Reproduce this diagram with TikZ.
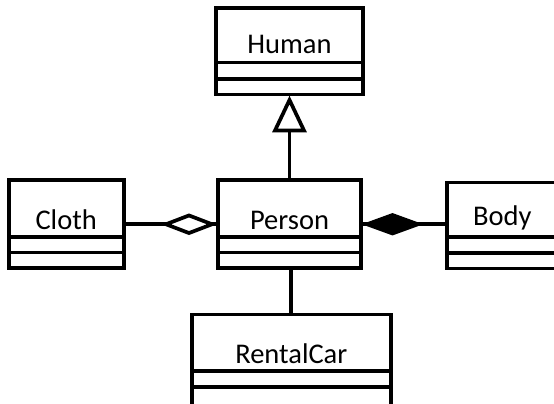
\documentclass[tikz,border=0pt]{standalone}
\usepackage{fontspec}
\setmainfont{Carlito}
\usetikzlibrary{calc}
\begin{document}
\begin{tikzpicture}[x=1pt,y=-1pt,
  ln/.style={line width=3.7pt},
  box/.style={draw, line width=3.7pt, inner sep=0pt, outer sep=0pt, anchor=north west},
  lbl/.style={font=\fontsize{28.5}{31}\selectfont, inner sep=0pt, anchor=base}]
\useasboundingbox (0,0) rectangle (554,404);
\fill[white] (0,0) rectangle (554,404);
\clip (0,0) rectangle (554,404);

% Human
\node[box, minimum width=146.4pt, minimum height=86.2pt] (human) at (216.3,8.3) {};
\draw[ln] (216.3,62.5) -- (362.7,62.5);
\draw[ln] (216.3,78.8) -- (362.7,78.8);
\node[lbl] (humanlbl) at (289.5,54) {Human};

% Person
\node[box, minimum width=143pt, minimum height=87.9pt] (person) at (218,180.3) {};
\draw[ln] (218,236.8) -- (361,236.8);
\draw[ln] (218,252.5) -- (361,252.5);
\node[lbl] (personlbl) at (289.5,229.3) {Person};

% Cloth
\node[box, minimum width=115pt, minimum height=87.9pt] (cloth) at (8.7,180.3) {};
\draw[ln] (8.7,236.8) -- (123.7,236.8);
\draw[ln] (8.7,252.5) -- (123.7,252.5);
\node[lbl] (clothlbl) at (66.2,229.3) {Cloth};

% Body
\node[box, minimum width=111.2pt, minimum height=86pt] (body) at (446.8,182.5) {};
\draw[ln] (446.8,237.2) -- (558,237.2);
\draw[ln] (446.8,252.8) -- (558,252.8);
\node[lbl] (bodylbl) at (502.4,225) {Body};

% RentalCar
\node[box, minimum width=199pt, minimum height=95.5pt] (rentalcar) at (191.8,314.5) {};
\draw[ln] (191.8,370.8) -- (390.8,370.8);
\draw[ln] (191.8,386.8) -- (390.8,386.8);
\node[lbl] (rentalcarlbl) at (291.3,363.3) {RentalCar};

% Generalization Person -> Human
\draw[ln] (person.north) -- ($(human.south)+(0,36)$);
\draw[ln, fill=white, line join=miter] ($(human.south)+(0,5.5)$) -- ++(14.5,30.5) -- ++(-29,0) -- cycle;

% Aggregation Cloth - Person
\draw[ln] (cloth.east) -- (person.west);
\draw[ln, fill=white, line join=miter] ($(person.west)+(-6,0)$) -- ++(-23,-8.8) -- ++(-23,8.8) -- ++(23,8.8) -- cycle;

% Composition Person - Body
\draw[ln] (person.east) -- (person.east -| body.west);
\fill ($(person.east)+(0.7,0)$) -- ++(30.8,-11.2) -- ++(30.8,11.2) -- ++(-30.8,11.2) -- cycle;

% Association Person - RentalCar
\draw[ln] (person.south -| rentalcar.north) -- (rentalcar.north);
\end{tikzpicture}
\end{document}
